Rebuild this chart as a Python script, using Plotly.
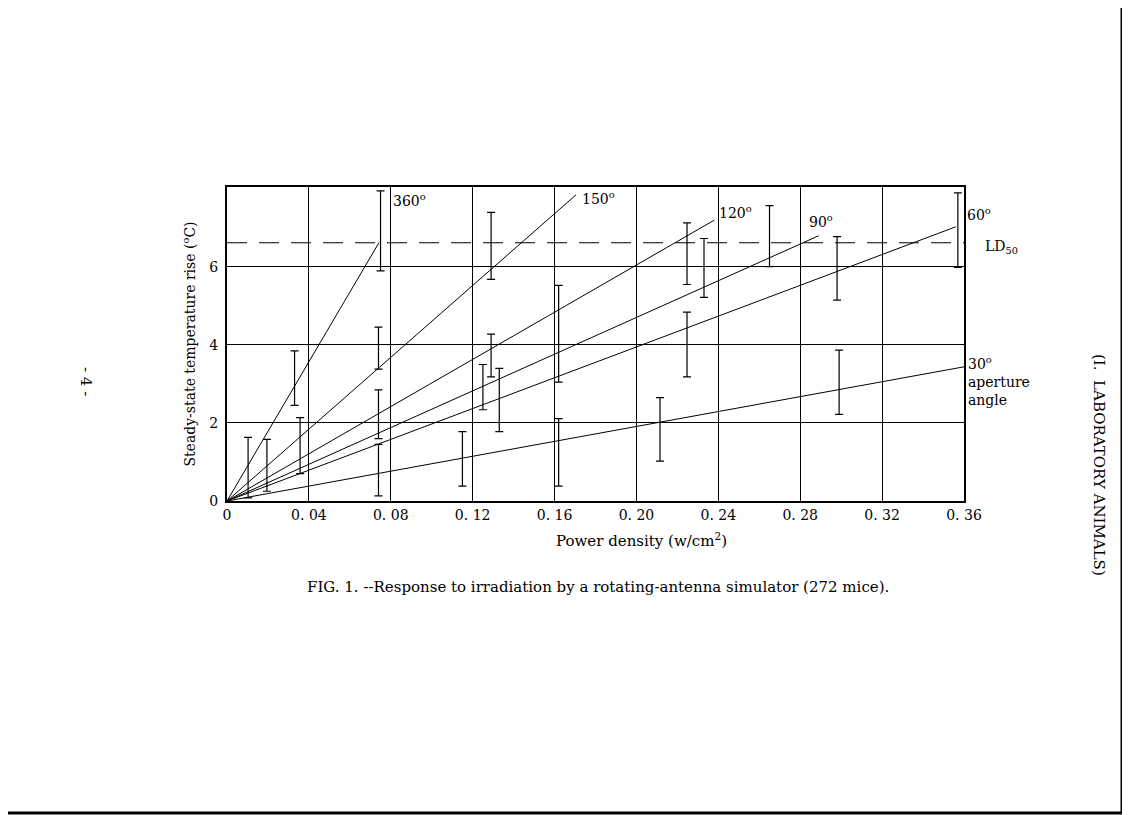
import plotly.graph_objects as go

line_end_x = [0.0742, 0.1705, 0.238, 0.289, 0.356, 0.36]
line_end_y = [6.62, 7.85, 7.2, 6.8, 7.03, 3.44]
ld50 = 6.62

err_x = [0.0103, 0.0195, 0.033, 0.0357, 0.074, 0.074, 0.074, 0.075, 0.115, 0.125, 0.129, 0.129,
         0.133, 0.162, 0.162, 0.2115, 0.2247, 0.2247, 0.233, 0.265, 0.298, 0.299, 0.357]
err_lo = [0.08, 0.25, 2.45, 0.7, 3.38, 1.6, 0.13, 5.9, 0.38, 2.34, 5.68, 3.18,
          1.78, 3.05, 0.38, 1.02, 5.55, 3.18, 5.22, 6.01, 5.15, 2.22, 5.99]
err_hi = [1.63, 1.58, 3.85, 2.14, 4.46, 2.85, 1.45, 7.95, 1.78, 3.5, 7.4, 4.28,
          3.4, 5.53, 2.11, 2.65, 7.13, 4.84, 6.73, 7.57, 6.78, 3.87, 7.9]

x_ticks = [0, 0.04, 0.08, 0.12, 0.16, 0.20, 0.24, 0.28, 0.32, 0.36]
x_tick_text = ["0", "0. 04", "0. 08", "0. 12", "0. 16", "0. 20", "0. 24", "0. 28", "0. 32", "0. 36"]
y_ticks = [0, 2, 4, 6]

font = "DejaVu Serif"
L, T, W, H = 219, 179, 737, 314
OFF = 7


def P(px, py):
    return (px - OFF - L) / W, 1 - (py - OFF - T) / H


fig = go.Figure()
for ex, ey in zip(line_end_x, line_end_y):
    fig.add_trace(go.Scatter(x=[0, ex], y=[0, ey], mode="lines",
                             line=dict(color="black", width=1), showlegend=False))
fig.add_trace(go.Scatter(x=[0, 0.36], y=[ld50, ld50], mode="lines",
                         line=dict(color="black", width=1, dash="20px,12px"), showlegend=False))
mid = [(a + b) / 2 for a, b in zip(err_lo, err_hi)]
half = [(b - a) / 2 for a, b in zip(err_lo, err_hi)]
fig.add_trace(go.Scatter(x=err_x, y=mid, mode="markers", marker=dict(size=0.1, color="black"),
                         error_y=dict(type="data", array=half, color="black", thickness=1.2, width=4),
                         showlegend=False))


def txt(px, py, t, size=14, angle=0, xa="left", align="left", bg=None):
    x, y = P(px, py)
    fig.add_annotation(x=x, y=y, xref="paper", yref="paper", text=t, showarrow=False,
                       xanchor=xa, align=align, textangle=angle, bgcolor=bg,
                       font=dict(family=font, size=size, color="black"))


txt(390, 188, "360<sup>o</sup>")
txt(579, 186, "150<sup>o</sup>")
txt(716, 200, "120<sup>o</sup>")
txt(806, 209, "90<sup>o</sup>")
txt(964, 202, "60<sup>o</sup>")
txt(982, 235, "LD<sub>50</sub>", bg="white")
txt(965, 380, "30<sup>o</sup><br>aperture<br>angle")
txt(640, 551, "Power density (w/cm<sup>2</sup>)", size=15, xa="center")
txt(597, 597, "FIG. 1. --Response to irradiation by a rotating-antenna simulator (272 mice).", size=15, xa="center")
txt(85, 380, "- 4 -", size=15, angle=90, xa="center")
txt(1098, 577, "(I.  LABORATORY ANIMALS)", size=15, angle=90, xa="center")

x1, y1 = P(1121, 0)
x2, y2 = P(1121, 812)
x0, _ = P(0, 812)
fig.add_shape(type="line", xref="paper", yref="paper", x0=x1, x1=x2, y0=y1, y1=y2,
              line=dict(color="black", width=3))
fig.add_shape(type="line", xref="paper", yref="paper", x0=x0, x1=x2, y0=y2, y1=y2,
              line=dict(color="black", width=3))

fig.update_layout(
    width=1130, height=815, autosize=False,
    margin=dict(l=L, r=1130 - L - W, t=T, b=815 - T - H),
    paper_bgcolor="white", plot_bgcolor="white",
    xaxis=dict(range=[0, 0.36], tickvals=x_ticks, ticktext=x_tick_text, showgrid=True,
               gridcolor="black", gridwidth=1, zeroline=False, showline=True, linecolor="black",
               linewidth=2, mirror=True, ticks="",
               tickfont=dict(family=font, size=14, color="black")),
    yaxis=dict(range=[0, 8.05], tickvals=y_ticks, showgrid=True, gridcolor="black", gridwidth=1,
               zeroline=False, showline=True, linecolor="black", linewidth=2, mirror=True,
               ticks="outside", ticklen=4, tickcolor="white",
               title=dict(text="Steady-state temperature rise (<sup>o</sup>C)",
                          font=dict(family=font, size=14, color="black"), standoff=10),
               tickfont=dict(family=font, size=14, color="black")),
)
fig.write_html("out.html")
